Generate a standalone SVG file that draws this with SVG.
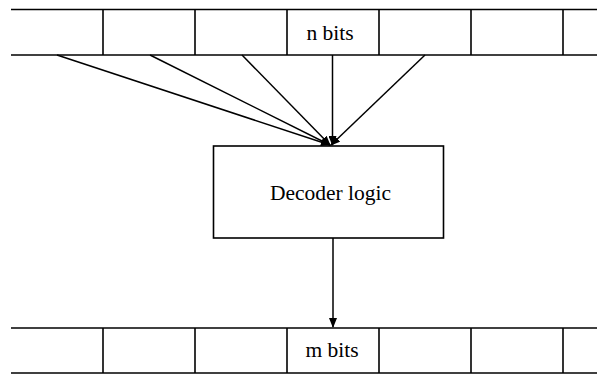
<svg xmlns="http://www.w3.org/2000/svg" width="597" height="374" viewBox="0 0 597 374">
  <style>
    .reg { stroke: #000; stroke-width: 1.6; fill: none; }
    .box { stroke: #000; stroke-width: 1.6; fill: #fff; }
    .wire { stroke: #000; stroke-width: 1.5; fill: none; marker-end: url(#arrow); }
    .lbl { font-family: "Liberation Serif", "Times New Roman", serif; font-size: 21.5px; fill: #000; text-anchor: middle; }
  </style>
  <defs>
    <marker id="arrow" markerWidth="10" markerHeight="8" refX="9" refY="4" orient="auto" markerUnits="userSpaceOnUse">
      <path d="M0,0 L10,4 L0,8 Z" fill="#000"/>
    </marker>
  </defs>
  <rect width="597" height="374" fill="#fff"/>

  <!-- n-bit input register -->
  <g id="input-register">
    <line class="reg" x1="11" y1="9.5" x2="597" y2="9.5"/>
    <line class="reg" x1="11" y1="55" x2="597" y2="55"/>
    <line class="reg" x1="103" y1="9.5" x2="103" y2="55"/>
    <line class="reg" x1="195" y1="9.5" x2="195" y2="55"/>
    <line class="reg" x1="287" y1="9.5" x2="287" y2="55"/>
    <line class="reg" x1="379" y1="9.5" x2="379" y2="55"/>
    <line class="reg" x1="471" y1="9.5" x2="471" y2="55"/>
    <line class="reg" x1="563" y1="9.5" x2="563" y2="55"/>
    <text class="lbl" x="330" y="40">n bits</text>
  </g>

  <!-- decoder block -->
  <g id="decoder">
    <rect class="box" x="213.5" y="146" width="230" height="92"/>
    <text class="lbl" x="330.5" y="200">Decoder logic</text>
  </g>

  <!-- m-bit output register -->
  <g id="output-register">
    <line class="reg" x1="11" y1="328" x2="597" y2="328"/>
    <line class="reg" x1="11" y1="373" x2="597" y2="373"/>
    <line class="reg" x1="103" y1="328" x2="103" y2="373"/>
    <line class="reg" x1="195" y1="328" x2="195" y2="373"/>
    <line class="reg" x1="287" y1="328" x2="287" y2="373"/>
    <line class="reg" x1="379" y1="328" x2="379" y2="373"/>
    <line class="reg" x1="471" y1="328" x2="471" y2="373"/>
    <line class="reg" x1="563" y1="328" x2="563" y2="373"/>
    <text class="lbl" x="332" y="357">m bits</text>
  </g>

  <!-- connectors -->
  <g id="connectors">
    <line class="wire" x1="57" y1="55" x2="330" y2="145"/>
    <line class="wire" x1="150" y1="55" x2="330" y2="145"/>
    <line class="wire" x1="242" y1="55" x2="330" y2="145"/>
    <line class="wire" x1="332.5" y1="55" x2="332.5" y2="145"/>
    <line class="wire" x1="425" y1="55" x2="331" y2="145"/>
    <line class="wire" x1="333" y1="238" x2="333" y2="327"/>
  </g>
</svg>
